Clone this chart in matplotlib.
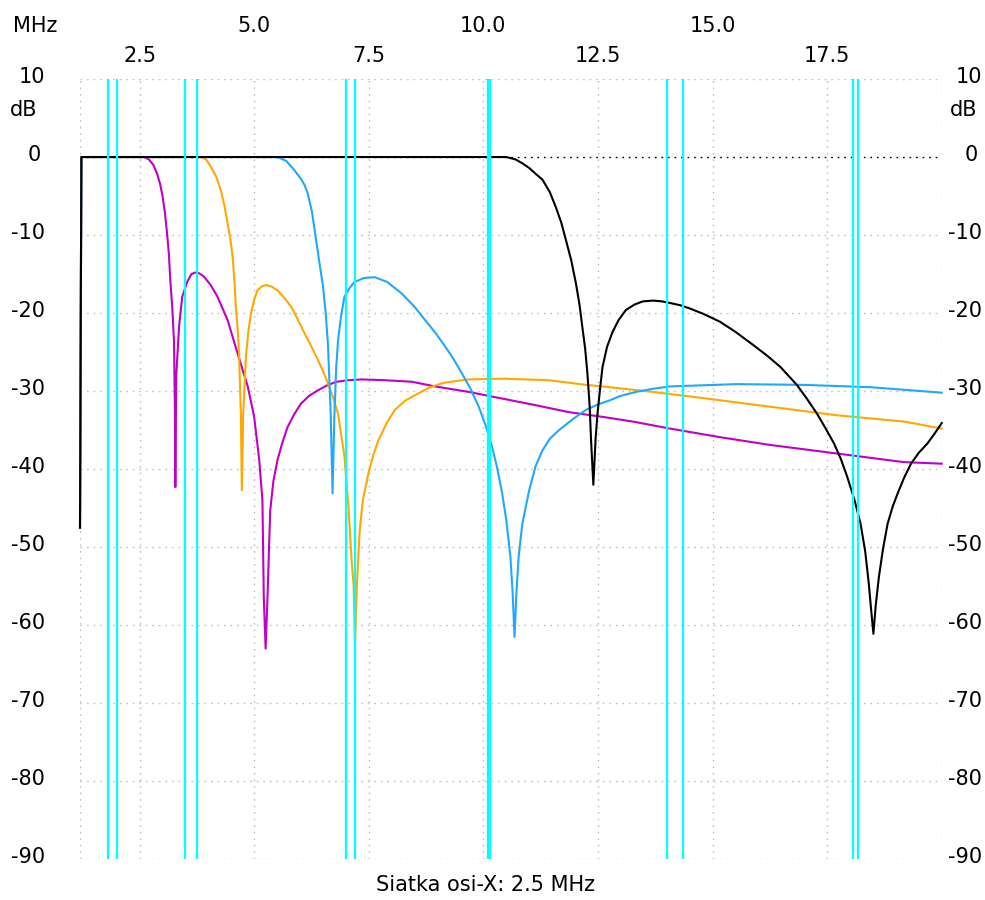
#!/usr/bin/env python3
"""
Low-pass filter sweep (4 filters) with amateur band markers
"""

import matplotlib
matplotlib.use('Agg')
import matplotlib.pyplot as plt

# Figure settings
W_PX = 985
H_PX = 900
DPI = 100
FONT_SIZE = 15

# Plot area in pixels (left, top, right, bottom)
AX_L, AX_T, AX_R, AX_B = 80, 79, 941.7, 859.3

# Axis ranges
X_MIN, X_MAX = 1.2, 20.0
Y_MIN, Y_MAX = -90, 10
X_GRID = [2.5, 5.0, 7.5, 10.0, 12.5, 15.0, 17.5]
Y_TICKS = [10, 0, -10, -20, -30, -40, -50, -60, -70, -80, -90]
X_LABELS_TOP = ['5.0', '10.0', '15.0']
X_LABELS_TOP_POS = [5.0, 10.0, 15.0]
X_LABELS_LOW = ['2.5', '7.5', '12.5', '17.5']
X_LABELS_LOW_POS = [2.5, 7.5, 12.5, 17.5]

# Band edge markers (MHz)
BAND_MARKERS = [1.8, 2.0, 3.5, 3.75, 7.0, 7.2, 10.1, 10.15, 14.0, 14.35, 18.068, 18.168]

# Filter responses (MHz, dB)
magenta_f = [1.2, 1.23, 2.6, 2.7, 2.8, 2.88, 2.95, 3.0, 3.05, 3.1, 3.14, 3.17, 3.21, 3.25,
             3.27, 3.28, 3.3, 3.36, 3.43, 3.54, 3.63, 3.72, 3.8, 3.9, 4.05, 4.2, 4.42,
             4.64, 4.86, 5.0, 5.11, 5.18, 5.21, 5.25, 5.29, 5.35, 5.42, 5.51, 5.62,
             5.73, 5.87, 6.02, 6.2, 6.39, 6.61, 6.8, 7.05, 7.34, 7.85, 8.44, 8.95,
             9.68, 10.19, 11.14, 11.87, 12.6, 13.26, 14.07, 15.16, 16.26, 17.72,
             19.18, 20.0]
magenta_db = [-47.5, 0.0, 0.0, -0.3, -1.0, -2.1, -3.5, -5.0, -7.0, -9.8, -12.5, -15.8, -19.0, -23.5,
              -32.0, -42.3, -28.0, -21.8, -17.9, -16.0, -15.0, -14.8, -14.9, -15.3, -16.4, -17.9, -20.9,
              -25.2, -29.4, -33.3, -38.8, -44.0, -56.5, -63.0, -56.5, -45.3, -41.5, -38.8, -36.5,
              -34.6, -33.0, -31.6, -30.6, -29.9, -29.2, -28.8, -28.6, -28.5, -28.6, -28.8, -29.4,
              -30.1, -30.7, -31.8, -32.7, -33.3, -33.9, -34.8, -35.9, -36.9, -38.0,
              -39.1, -39.3]

orange_f = [1.2, 1.23, 3.83, 3.95, 4.05, 4.17, 4.27, 4.35, 4.42, 4.48, 4.53, 4.57, 4.6,
            4.64, 4.67, 4.71, 4.73, 4.76, 4.82, 4.87, 4.93, 5.0, 5.07, 5.16, 5.26, 5.38,
            5.51, 5.65, 5.81, 5.95, 6.1, 6.25, 6.39, 6.5, 6.61, 6.72, 6.83, 6.97, 7.06,
            7.12, 7.17, 7.2, 7.24, 7.3, 7.37, 7.49, 7.6, 7.71, 7.9, 8.07, 8.3, 8.58,
            8.8, 9.09, 9.4, 9.68, 10.41, 11.43, 12.24, 12.6, 13.7, 14.8, 16.26, 17.72,
            19.18, 20.0]
orange_db = [-47.5, 0.0, 0.0, -0.3, -1.2, -2.5, -4.2, -6.2, -8.5, -10.5, -12.8, -16.0, -19.2,
             -22.0, -25.2, -33.0, -42.7, -33.0, -25.6, -22.5, -20.0, -18.3, -17.1, -16.6, -16.4, -16.6,
             -17.1, -18.0, -19.2, -20.8, -22.6, -24.3, -26.0, -27.4, -29.0, -30.8, -32.9, -38.4, -45.0,
             -51.2, -55.0, -62.6, -55.0, -48.0, -44.0, -40.6, -38.2, -36.3, -34.0, -32.4, -31.2, -30.3,
             -29.6, -29.0, -28.7, -28.5, -28.4, -28.6, -29.2, -29.4, -30.1, -30.9, -32.0, -33.1,
             -33.9, -34.8]

blue_f = [1.2, 1.23, 5.51, 5.7, 5.88, 6.02, 6.1, 6.17, 6.26, 6.35, 6.43, 6.5, 6.56, 6.61,
          6.67, 6.71, 6.75, 6.79, 6.83, 6.9, 6.97, 7.08, 7.19, 7.4, 7.63, 7.9, 8.22, 8.5,
          8.73, 8.95, 9.17, 9.35, 9.53, 9.72, 9.9, 10.05, 10.19, 10.3, 10.41, 10.5, 10.59,
          10.64, 10.68, 10.72, 10.77, 10.85, 11.0, 11.14, 11.29, 11.45, 11.65, 11.95, 12.24,
          12.5, 12.75, 13.0, 13.33, 13.7, 14.07, 15.53, 16.99, 18.45, 20.0]
blue_db = [-47.5, 0.0, 0.0, -0.5, -1.7, -2.8, -3.6, -4.7, -7.0, -10.6, -13.8, -16.5, -20.0, -24.0,
           -33.0, -43.1, -33.0, -27.0, -23.5, -20.2, -17.9, -16.8, -16.0, -15.5, -15.4, -16.0, -17.5, -19.2,
           -20.9, -22.5, -24.3, -25.9, -27.7, -29.7, -32.0, -34.4, -37.1, -39.8, -43.1, -46.5, -51.2,
           -56.0, -61.5, -56.0, -51.2, -47.0, -42.7, -39.6, -37.6, -36.1, -35.0, -33.6, -32.4,
           -31.7, -31.2, -30.6, -30.1, -29.7, -29.4, -29.1, -29.2, -29.5, -30.2]

black_f = [1.2, 1.23, 10.5, 10.7, 10.85, 11.0, 11.15, 11.29, 11.45, 11.58, 11.7, 11.8, 11.92,
           12.02, 12.1, 12.16, 12.22, 12.27, 12.32, 12.35, 12.4, 12.45, 12.49, 12.55, 12.6,
           12.7, 12.82, 12.95, 13.11, 13.3, 13.48, 13.7, 13.9, 14.07, 14.3, 14.5, 14.8, 15.16,
           15.5, 15.89, 16.2, 16.48, 16.84, 17.05, 17.28, 17.45, 17.65, 17.8, 17.94, 18.1,
           18.23, 18.33, 18.41, 18.46, 18.51, 18.56, 18.63, 18.72, 18.82, 18.93, 19.04, 19.18,
           19.33, 19.5, 19.69, 19.85, 20.0]
black_db = [-47.5, 0.0, 0.0, -0.3, -0.8, -1.4, -2.2, -2.9, -4.5, -6.4, -8.4, -10.6, -13.3,
            -16.2, -19.0, -21.8, -24.5, -27.7, -32.0, -36.3, -42.0, -36.0, -32.9, -29.5, -26.9,
            -24.3, -22.4, -20.9, -19.6, -18.9, -18.5, -18.4, -18.5, -18.7, -19.0, -19.4, -20.1, -21.1,
            -22.4, -24.1, -25.5, -26.9, -29.2, -30.9, -32.9, -34.6, -36.7, -38.7, -41.0, -44.0,
            -47.0, -50.5, -54.7, -58.0, -61.1, -57.5, -53.8, -50.2, -47.0, -44.8, -43.1, -41.1,
            -39.3, -37.9, -36.7, -35.4, -34.1]

# Colors
GRID_COLOR = '#c0c0c0'
BAND_COLOR = '#00ffff'
SERIES = [
    (magenta_f, magenta_db, '#c000c8'),
    (orange_f, orange_db, '#ffa800'),
    (blue_f, blue_db, '#20a8ff'),
    (black_f, black_db, '#000000'),
]


def px_x(x):
    return x / W_PX


def px_y(y):
    return 1 - y / H_PX


def main():
    plt.rcParams['font.family'] = ['DejaVu Sans']
    fig = plt.figure(figsize=(W_PX / DPI, H_PX / DPI), dpi=DPI)
    ax = fig.add_axes([px_x(AX_L), px_y(AX_B), (AX_R - AX_L) / W_PX, (AX_B - AX_T) / H_PX])

    ax.set_xlim(X_MIN, X_MAX)
    ax.set_ylim(Y_MIN, Y_MAX)
    for s in ax.spines.values():
        s.set_visible(False)
    ax.set_xticks([])
    ax.set_yticks([])

    dot = (0, (1.2, 3.5))
    # Grid (dotted) incl. frame
    for xv in X_GRID + [X_MIN, X_MAX]:
        ax.axvline(xv, color=GRID_COLOR, linestyle=dot, linewidth=1, zorder=1)
    for yv in Y_TICKS:
        if yv == 0:
            continue
        ax.axhline(yv, color=GRID_COLOR, linestyle=dot, linewidth=1, zorder=1)
    ax.axhline(0, color='black', linestyle=dot, linewidth=1, zorder=1)

    # Filter curves
    for f, db, c in SERIES:
        ax.plot(f, db, color=c, linewidth=1.5, zorder=3, clip_on=False)

    # Band markers
    for b in BAND_MARKERS:
        ax.axvline(b, color=BAND_COLOR, linewidth=1.6, zorder=4)

    # X labels (two rows above plot)
    def fx(v):
        return px_x(AX_L + (v - X_MIN) / (X_MAX - X_MIN) * (AX_R - AX_L))

    fig.text(px_x(35), px_y(26), 'MHz', ha='center', va='center', fontsize=FONT_SIZE)
    for lab, pos in zip(X_LABELS_TOP, X_LABELS_TOP_POS):
        fig.text(fx(pos), px_y(26), lab, ha='center', va='center', fontsize=FONT_SIZE)
    for lab, pos in zip(X_LABELS_LOW, X_LABELS_LOW_POS):
        fig.text(fx(pos), px_y(56), lab, ha='center', va='center', fontsize=FONT_SIZE)

    # Y labels both sides
    for yv in Y_TICKS:
        ypx = AX_T + (Y_MAX - yv) / (Y_MAX - Y_MIN) * (AX_B - AX_T) - 2
        off = 4 if yv == 0 else 0
        fig.text(px_x(45 - off), px_y(ypx), str(yv), ha='right', va='center', fontsize=FONT_SIZE)
        fig.text(px_x(982 - off), px_y(ypx), str(yv), ha='right', va='center', fontsize=FONT_SIZE)
    fig.text(px_x(24), px_y(110), 'dB', ha='center', va='center', fontsize=FONT_SIZE)
    fig.text(px_x(964), px_y(110), 'dB', ha='center', va='center', fontsize=FONT_SIZE)

    fig.text(px_x(486), px_y(885), 'Siatka osi-X: 2.5 MHz', ha='center', va='center',
             fontsize=FONT_SIZE)

    fig.savefig('out.png', dpi=DPI)
    plt.close(fig)


if __name__ == '__main__':
    main()
